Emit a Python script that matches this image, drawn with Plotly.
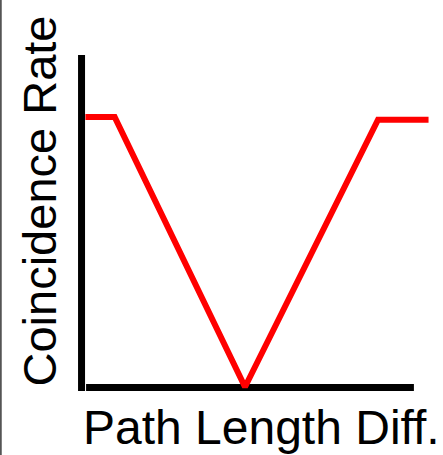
import plotly.graph_objects as go

# Data (schematic: coincidence dip vs path length difference)
path_diff = [-12.0, -9.8, 0.0, 10.0, 13.8]
coinc_rate = [1.0, 1.0, 0.0, 0.99, 0.99]

x_title = "Path Length Diff."
y_title = "Coincidence Rate"

W, H = 443, 455
ml, mr, mt, mb = 70, 11, 50, 54
pw, ph = W - ml - mr, H - mt - mb


def px_to_paper(px, py):
    return (px - ml) / pw, (H - mb - py) / ph


fig = go.Figure()
fig.add_trace(go.Scatter(
    x=path_diff, y=coinc_rate, mode="lines",
    line=dict(color="#ff0000", width=6),
    hoverinfo="skip", showlegend=False,
))

font_family = "Liberation Sans, Arial, Helvetica, sans-serif"

xt_x, xt_y = px_to_paper(261, 427.5)
yt_x, yt_y = px_to_paper(39, 201.5)
bx, _ = px_to_paper(0.75, 0)

fig.update_layout(
    width=W, height=H,
    margin=dict(l=ml, r=mr, t=mt, b=mb, pad=0),
    paper_bgcolor="white", plot_bgcolor="white",
    xaxis=dict(range=[-13.158, 14.060], visible=False, fixedrange=True),
    yaxis=dict(range=[-0.0519, 1.2481], visible=False, fixedrange=True),
    shapes=[
        # x axis line
        dict(type="line", xref="x", yref="y", x0=-11.95, x1=12.7, y0=-0.0015, y1=-0.0015,
             line=dict(color="black", width=7), layer="below"),
        # y axis line
        dict(type="line", xref="x", yref="y", x0=-12.29, x1=-12.29, y0=-0.0148, y1=1.2296,
             line=dict(color="black", width=7), layer="below"),
        # left border
        dict(type="line", xref="paper", yref="paper", x0=bx, x1=bx, y0=-0.2, y1=1.2,
             line=dict(color="#555555", width=2)),
    ],
    annotations=[
        dict(text=x_title, xref="paper", yref="paper", x=xt_x, y=xt_y,
             xanchor="center", yanchor="middle", showarrow=False,
             font=dict(family=font_family, size=48, color="black")),
        dict(text=y_title, xref="paper", yref="paper", x=yt_x, y=yt_y, textangle=-90,
             xanchor="center", yanchor="middle", showarrow=False,
             font=dict(family=font_family, size=47, color="black")),
    ],
)

fig.write_html(
    "out.html",
    config={"displayModeBar": False},
    post_script="document.body.style.margin='0';document.body.style.overflow='hidden';",
)
